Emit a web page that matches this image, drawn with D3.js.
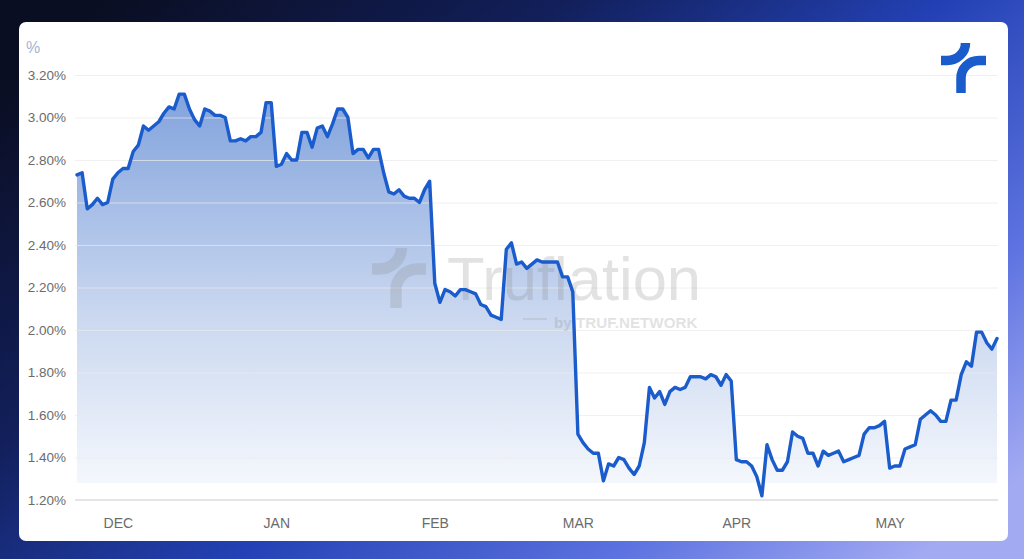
<!DOCTYPE html>
<html><head><meta charset="utf-8">
<script src="https://cdn.jsdelivr.net/npm/d3@7"></script>
<style>html,body{margin:0;padding:0;background:#0c1128;}svg{display:block;}</style>
</head><body>
<svg id="chart" width="1024" height="559"></svg>
<script>
// ---- data ----
const startDate = "2024-11-23"; // first daily observation
const values = [
2.73,2.74,2.57,2.59,2.62,2.59,2.60,2.71,2.74,2.76,
2.76,2.84,2.87,2.96,2.94,2.96,2.98,3.02,3.05,3.04,
3.11,3.11,3.04,2.99,2.96,3.04,3.03,3.01,3.01,3.00,
2.89,2.89,2.90,2.89,2.91,2.91,2.93,3.07,3.07,2.77,
2.78,2.83,2.80,2.80,2.93,2.93,2.86,2.95,2.96,2.91,
2.97,3.04,3.04,3.00,2.83,2.85,2.85,2.81,2.85,2.85,
2.74,2.65,2.64,2.66,2.63,2.62,2.62,2.60,2.66,2.70,
2.22,2.13,2.19,2.18,2.16,2.19,2.19,2.18,2.17,2.12,
2.11,2.07,2.06,2.05,2.38,2.41,2.31,2.32,2.29,2.31,
2.33,2.32,2.32,2.32,2.32,2.25,2.25,2.18,1.51,1.47,
1.44,1.42,1.42,1.29,1.37,1.36,1.40,1.39,1.35,1.32,
1.36,1.47,1.73,1.68,1.71,1.65,1.71,1.73,1.72,1.73,
1.78,1.78,1.78,1.77,1.79,1.78,1.74,1.79,1.76,1.39,
1.38,1.38,1.36,1.31,1.22,1.46,1.39,1.34,1.34,1.38,
1.52,1.50,1.49,1.42,1.42,1.36,1.43,1.41,1.42,1.43,
1.38,1.39,1.40,1.41,1.51,1.54,1.54,1.55,1.57,1.35,
1.36,1.36,1.44,1.45,1.46,1.58,1.60,1.62,1.60,1.57,
1.57,1.67,1.67,1.79,1.85,1.83,1.99,1.99,1.94,1.91,
1.96];
const monthLabels = ["DEC","JAN","FEB","MAR","APR","MAY"];
const monthDates = ["2024-12-01","2025-01-01","2025-02-01","2025-03-01","2025-04-01","2025-05-01"];
const yTicks = [1.2,1.4,1.6,1.8,2.0,2.2,2.4,2.6,2.8,3.0,3.2];
const yDomain = [1.2, 3.2];
const areaBase = 1.28;

// ---- build ----
const parse = d3.utcParse("%Y-%m-%d");
const t0 = parse(startDate);
const data = values.map((v,i)=>({date:d3.utcDay.offset(t0,i), value:v}));

const svg = d3.select("#chart");
const W = 1024, H = 559;
const FONT = "Liberation Sans, Arial, sans-serif";
const defs = svg.append("defs");

const bg = defs.append("linearGradient").attr("id","bg")
  .attr("x1","0").attr("y1","0.15").attr("x2","1").attr("y2","0.85");
[[0,"#0a0e22"],[0.3,"#121f5a"],[0.55,"#2341b4"],[0.8,"#5c72e0"],[1,"#a2aaf2"]]
  .forEach(([o,c])=>bg.append("stop").attr("offset",o).attr("stop-color",c));
svg.append("rect").attr("width",W).attr("height",H).attr("fill","url(#bg)");

// card
svg.append("rect").attr("x",19).attr("y",22).attr("width",989).attr("height",519)
  .attr("rx",7).attr("fill","#ffffff");

const x = d3.scaleUtc().domain([t0, data[data.length-1].date]).range([77, 997]);
const y = d3.scaleLinear().domain(yDomain).range([500, 75]);

// area gradient
const ag = defs.append("linearGradient").attr("id","areaGrad")
  .attr("gradientUnits","userSpaceOnUse")
  .attr("x1",0).attr("x2",0).attr("y1",y(d3.max(values))).attr("y2",y(areaBase));
ag.append("stop").attr("offset",0).attr("stop-color","#82a3dd");
ag.append("stop").attr("offset",0.55).attr("stop-color","#c8d6ef");
ag.append("stop").attr("offset",1).attr("stop-color","#f4f7fc");

const area = d3.area().x(d=>x(d.date)).y0(y(areaBase)).y1(d=>y(d.value));
svg.append("path").datum(data).attr("d",area).attr("fill","url(#areaGrad)");

// y axis labels
const yAxis = d3.axisLeft(y).tickValues(yTicks).tickSize(0).tickPadding(0)
  .tickFormat(d=>d3.format(".2f")(d)+"%");
const ya = svg.append("g").attr("transform","translate(66,0)").call(yAxis);
ya.select(".domain").remove();
ya.selectAll("text").attr("font-family",FONT)
  .attr("font-size",13.5).attr("fill","#6b6b6b");

// grid (drawn over area, translucent)
const grid = d3.axisLeft(y).tickValues(yTicks.slice(1)).tickSize(-(998-75)).tickFormat("");
const gg = svg.append("g").attr("transform","translate(75,0)").call(grid);
gg.select(".domain").remove();
gg.selectAll("line").attr("stroke","#e9e9e9").attr("stroke-opacity",0.7);

// baseline
svg.append("line").attr("x1",75).attr("x2",998).attr("y1",y(yDomain[0])).attr("y2",y(yDomain[0]))
  .attr("stroke","#dcdcdc").attr("stroke-width",1.5);

// x axis labels
const xAxis = d3.axisBottom(x).tickValues(monthDates.map(parse)).tickSize(0).tickPadding(0)
  .tickFormat((d,i)=>monthLabels[i]);
const xa = svg.append("g").attr("transform","translate(0,518)").call(xAxis);
xa.select(".domain").remove();
xa.selectAll("text").attr("font-family",FONT)
  .attr("font-size",14).attr("fill","#6b6b6b").attr("dy","0.71em");

// "%" unit label
svg.append("text").attr("x",26).attr("y",53).text("%")
  .attr("font-family",FONT).attr("font-size",16).attr("fill","#a3b3d3");

// logo helper (two quarter-arc strokes)
function drawLogo(g, color, sw){
  g.append("path").attr("d","M0,17.5 L6,17.5 A18.5,17.5 0 0 0 24.5,0")
    .attr("fill","none").attr("stroke",color).attr("stroke-width",sw);
  g.append("path").attr("d","M45,17.5 L38,17.5 A18,17.5 0 0 0 20,35 L20,50")
    .attr("fill","none").attr("stroke",color).attr("stroke-width",sw);
}

// watermark
const wm = svg.append("g").attr("opacity",0.22);
drawLogo(wm.append("g").attr("transform","translate(372,248) scale(1.2)"), "#808080", 9.5);
wm.append("text").attr("x",447).attr("y",300).text("Truflation")
  .attr("font-family",FONT).attr("font-size",61.5).attr("fill","#808080");
wm.append("line").attr("x1",523).attr("x2",547).attr("y1",319).attr("y2",319)
  .attr("stroke","#808080").attr("stroke-width",1.5);
wm.append("text").attr("x",554).attr("y",328).text("by TRUF.NETWORK")
  .attr("font-family",FONT).attr("font-size",15.2)
  .attr("font-weight","bold").attr("fill","#808080");

// line
const line = d3.line().x(d=>x(d.date)).y(d=>y(d.value));
svg.append("path").datum(data).attr("d",line).attr("fill","none")
  .attr("stroke","#1a5ccc").attr("stroke-width",3.4).attr("stroke-linejoin","round")
  .attr("stroke-linecap","round");

// corner logo
drawLogo(svg.append("g").attr("transform","translate(941,43)"), "#1a5ccc", 9.5);
</script>
</body></html>
